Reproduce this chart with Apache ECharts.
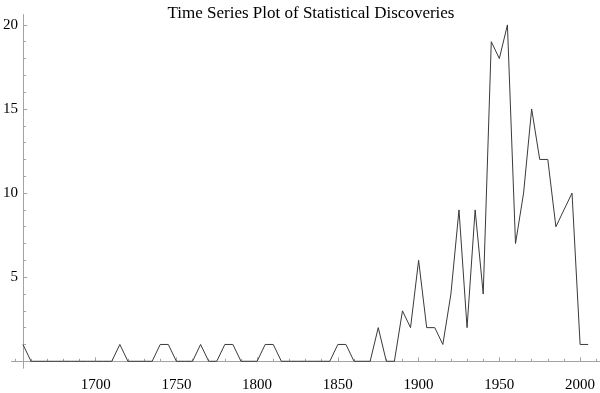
<!DOCTYPE html>
<html>
<head>
<meta charset="utf-8">
<script src="https://cdn.jsdelivr.net/npm/echarts@6/dist/echarts.min.js"></script>
<style>
html,body{margin:0;padding:0;background:#fff;}
#chart{width:600px;height:393px;}
</style>
</head>
<body>
<div id="chart"></div>
<script>
const titleText = 'Time Series Plot of Statistical Discoveries';
const years = [1655,1660,1665,1670,1675,1680,1685,1690,1695,1700,1705,1710,1715,1720,1725,1730,1735,1740,1745,1750,1755,1760,1765,1770,1775,1780,1785,1790,1795,1800,1805,1810,1815,1820,1825,1830,1835,1840,1845,1850,1855,1860,1865,1870,1875,1880,1885,1890,1895,1900,1905,1910,1915,1920,1925,1930,1935,1940,1945,1950,1955,1960,1965,1970,1975,1980,1985,1990,1995,2000,2005];
const discoveries = [1,0,0,0,0,0,0,0,0,0,0,0,1,0,0,0,0,1,1,0,0,0,1,0,0,1,1,0,0,0,1,1,0,0,0,0,0,0,0,1,1,0,0,0,2,0,0,3,2,6,2,2,1,4,9,2,9,4,19,18,20,7,10,15,12,12,8,9,10,1,1];
const xMajorTicks = [1700,1750,1800,1850,1900,1950,2000];
const xMinorTicks = [1650,1660,1670,1680,1690,1700,1710,1720,1730,1740,1750,1760,1770,1780,1790,1800,1810,1820,1830,1840,1850,1860,1870,1880,1890,1900,1910,1920,1930,1940,1950,1960,1970,1980,1990,2000,2010];
const yMajorTicks = [5,10,15,20];
const yMinorTicks = [1,2,3,4,5,6,7,8,9,10,11,12,13,14,15,16,17,18,19,20];

const X_MIN = 1648, X_MAX = 2012, Y_MIN = -0.4, Y_MAX = 20.6;
const pxPerYear = 1.62, pxPerUnit = 17.39;
const gridLeft = 9.8, gridTop = 14.8;
const gridW = (X_MAX - X_MIN) * pxPerYear;
const gridH = (Y_MAX - Y_MIN) * pxPerUnit;
const yAxisOffset = -(1655 - X_MIN) * pxPerYear;

const axisColor = '#a3a3a3';
const font = '"Liberation Serif", "DejaVu Serif", serif';

const chart = echarts.init(document.getElementById('chart'), null, {renderer: 'canvas'});
const xBase = {
  type: 'value', min: X_MIN, max: X_MAX, position: 'bottom', offset: 0,
  splitLine: {show: false},
  axisLine: {show: true, onZero: true, lineStyle: {color: axisColor, width: 1}}
};
const yBase = {
  type: 'value', min: Y_MIN, max: Y_MAX, position: 'left', offset: yAxisOffset,
  splitLine: {show: false},
  axisLine: {show: true, lineStyle: {color: axisColor, width: 1}}
};
chart.setOption({
  animation: false,
  backgroundColor: '#fff',
  title: {
    text: titleText, left: 306, top: 0, textAlign: 'center',
    textStyle: {fontFamily: font, fontWeight: 'normal', fontSize: 17, color: '#000'}
  },
  grid: {left: gridLeft, top: gridTop, width: gridW, height: gridH, containLabel: false},
  xAxis: [
    Object.assign({}, xBase, {
      axisTick: {show: true, inside: true, length: 4, customValues: xMajorTicks, lineStyle: {color: axisColor}},
      axisLabel: {show: true, customValues: xMajorTicks, margin: 10, fontFamily: font, fontSize: 15, color: '#000',
        formatter: v => String(v)}
    }),
    Object.assign({}, xBase, {
      axisTick: {show: true, inside: true, length: 2.5, customValues: xMinorTicks, lineStyle: {color: axisColor}},
      axisLabel: {show: false}
    })
  ],
  yAxis: [
    Object.assign({}, yBase, {
      axisTick: {show: true, inside: true, length: 4.3, customValues: yMajorTicks, lineStyle: {color: axisColor}},
      axisLabel: {show: true, customValues: yMajorTicks, margin: 5, fontFamily: font, fontSize: 15, color: '#000',
        formatter: v => String(v)}
    }),
    Object.assign({}, yBase, {
      axisTick: {show: true, inside: true, length: 3, customValues: yMinorTicks, lineStyle: {color: axisColor}},
      axisLabel: {show: false}
    })
  ],
  series: [{
    type: 'line',
    xAxisIndex: 0, yAxisIndex: 0,
    data: years.map((y, i) => [y, discoveries[i]]),
    symbol: 'none',
    lineStyle: {color: '#3a3a3a', width: 1},
    silent: true
  }]
});
</script>
</body>
</html>
